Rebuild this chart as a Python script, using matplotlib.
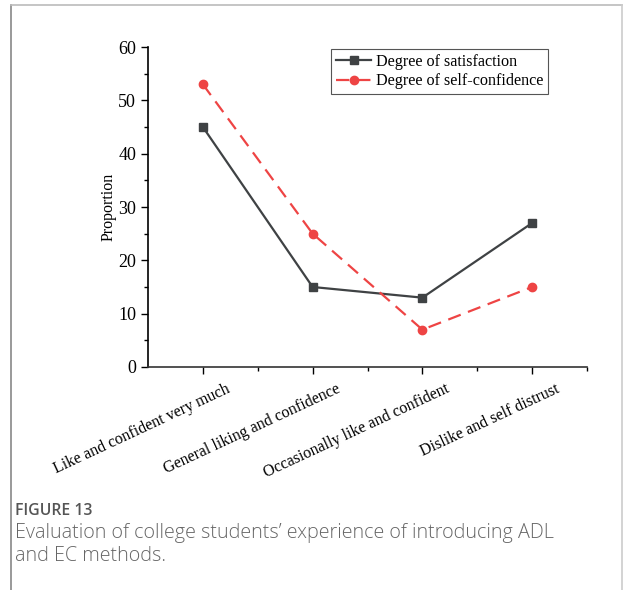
# figura 13: avaliacao da experiencia dos estudantes
import numpy as np
import matplotlib.pyplot as plt
import matplotlib.transforms as mtrans
from matplotlib.lines import Line2D

# dados
categorias = ['Like and confident very much', 'General liking and confidence',
              'Occasionally like and confident', 'Dislike and self distrust']
satisfacao = [45, 15, 13, 27]
autoconfianca = [53, 25, 7, 15]
serie_nomes = ['Degree of satisfaction', 'Degree of self-confidence']

cor_sat = '#3f4244'
cor_conf = '#ee4444'
fonte = 'Liberation Serif'

fig = plt.figure(figsize=(6.24, 5.9), dpi=100)
ax = fig.add_axes([0.2372, 0.378, 0.7035, 0.5423])

x = np.arange(1, len(categorias) + 1)
ax.plot(x, satisfacao, c=cor_sat, lw=1.6, marker='s', ms=6, label=serie_nomes[0])
ax.plot(x, autoconfianca, c=cor_conf, lw=1.6, ls=(0, (6, 3.5)), marker='o', ms=6,
        label=serie_nomes[1])

ax.set_xlim(0.5, 4.5)
ax.set_ylim(0, 60)
ax.set_yticks(np.arange(0, 61, 10))
ax.set_yticks(np.arange(5, 60, 10), minor=True)
ax.set_xticks(x)
ax.set_xticks(x + 0.5, minor=True)
ax.set_xticklabels([])
# rotulos do eixo x deslocados para a direita (como no original)
desloc = mtrans.ScaledTranslation(23 / 100, -14 / 100, fig.dpi_scale_trans)
for xi, cat in zip(x, categorias):
    ax.text(xi, 0, cat, transform=ax.get_xaxis_transform() + desloc, rotation=25,
            ha='right', va='top', rotation_mode='anchor', fontfamily=fonte, fontsize=11.5)
for lab in ax.get_yticklabels():
    lab.set_fontfamily(fonte)
    lab.set_fontsize(13)
ax.tick_params(which='major', direction='out', length=5, width=1, colors='black')
ax.tick_params(which='minor', direction='out', length=3, width=1)
for s in ['top', 'right']:
    ax.spines[s].set_visible(False)
ax.spines['left'].set_linewidth(1.2)
ax.spines['bottom'].set_linewidth(1.2)
ax.spines['bottom'].set_color('#333333')
ax.set_ylabel('Proportion', fontfamily=fonte, fontsize=11.5, labelpad=1)

leg = ax.legend(loc='upper right', bbox_to_anchor=(0.912, 0.993), prop={'family': fonte, 'size': 11.6},
                fancybox=False, edgecolor='#555555', framealpha=1, handlelength=2.2,
                borderpad=0.3, labelspacing=0.2, handletextpad=0.3, borderaxespad=0.0)
leg.get_frame().set_linewidth(0.8)

# moldura da pagina
fig.add_artist(Line2D([11 / 624, 11 / 624], [0, 1 - 5 / 590], color='#888888', lw=1.2))
fig.add_artist(Line2D([11 / 624, 622 / 624], [1 - 5 / 590, 1 - 5 / 590], color='#bbbbbb', lw=1.2))
fig.add_artist(Line2D([622 / 624, 622 / 624], [0, 1 - 5 / 590], color='#cccccc', lw=1.2))

# legenda da figura
fig.text(15 / 624, 1 - 511 / 590, 'FIGURE 13', fontfamily='Open Sans', fontsize=11.3,
         color='#555555', va='center', fontweight='semibold')
fig.text(15 / 624, 1 - 533 / 590, 'Evaluation of college students\u2019 experience of introducing ADL',
         fontfamily='Open Sans', fontsize=14.2, color='#666666', va='center', fontweight='light')
fig.text(15 / 624, 1 - 556 / 590, 'and EC methods.', fontfamily='Open Sans', fontsize=14.2,
         color='#666666', va='center', fontweight='light')

plt.savefig('out.png', dpi=100)
